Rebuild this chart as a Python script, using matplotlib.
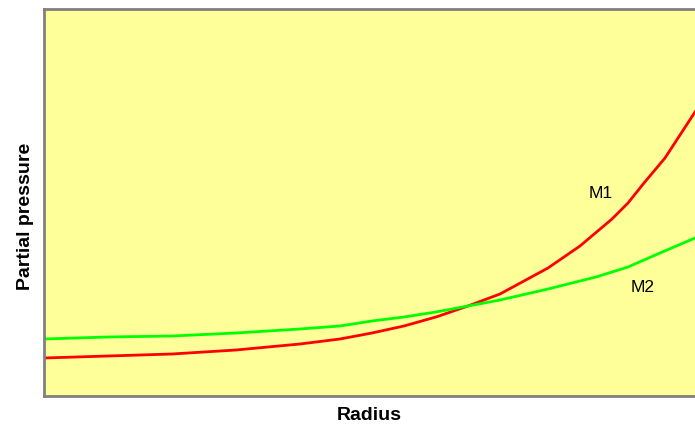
import matplotlib
matplotlib.use("Agg")
import matplotlib.pyplot as plt

plt.rcParams['font.family'] = ['Liberation Sans', 'DejaVu Sans']

# Radius (arbitrary units) and partial pressures (arbitrary units)
m1_r = [0, 64, 128, 192, 256, 296, 328, 360, 392, 424, 456, 504, 536, 568, 584, 600, 621, 651]
m1_p = [38, 40, 42, 46, 52, 57, 63, 70, 79, 90, 102, 128, 150, 177, 193, 213, 238, 284]
m2_r = [0, 64, 128, 192, 256, 296, 328, 360, 392, 424, 456, 504, 552, 584, 616, 651]
m2_p = [57, 59, 60, 63, 67, 70, 75, 79, 84, 90, 96, 107, 119, 129, 143, 158]

fig = plt.figure(figsize=(6.95, 4.25), dpi=100)
ax = fig.add_axes([44/695, 29/425, 651/695, 387/425])
ax.set_facecolor('#FFFF99')
ax.plot(m1_r, m1_p, color='#FF0000', lw=2)
ax.plot(m2_r, m2_p, color='#00FF00', lw=2)
ax.set_xlim(0, 651)
ax.set_ylim(0, 387)
ax.set_xticks([])
ax.set_yticks([])
for s in ['left', 'top', 'bottom']:
    ax.spines[s].set_color('#808080')
    ax.spines[s].set_linewidth(2)
ax.spines['right'].set_visible(False)
ax.text(557, 203, 'M1', fontsize=12.5, ha='center', va='center')
ax.text(599, 108, 'M2', fontsize=12.5, ha='center', va='center')
ax.set_xlabel('Radius', fontsize=14, fontweight='bold')
ax.set_ylabel('Partial pressure', fontsize=14, fontweight='bold')
ax.xaxis.set_label_coords(0.5, -0.028)
ax.yaxis.set_label_coords(-0.016, 0.465)
fig.savefig('out.png', dpi=100)
